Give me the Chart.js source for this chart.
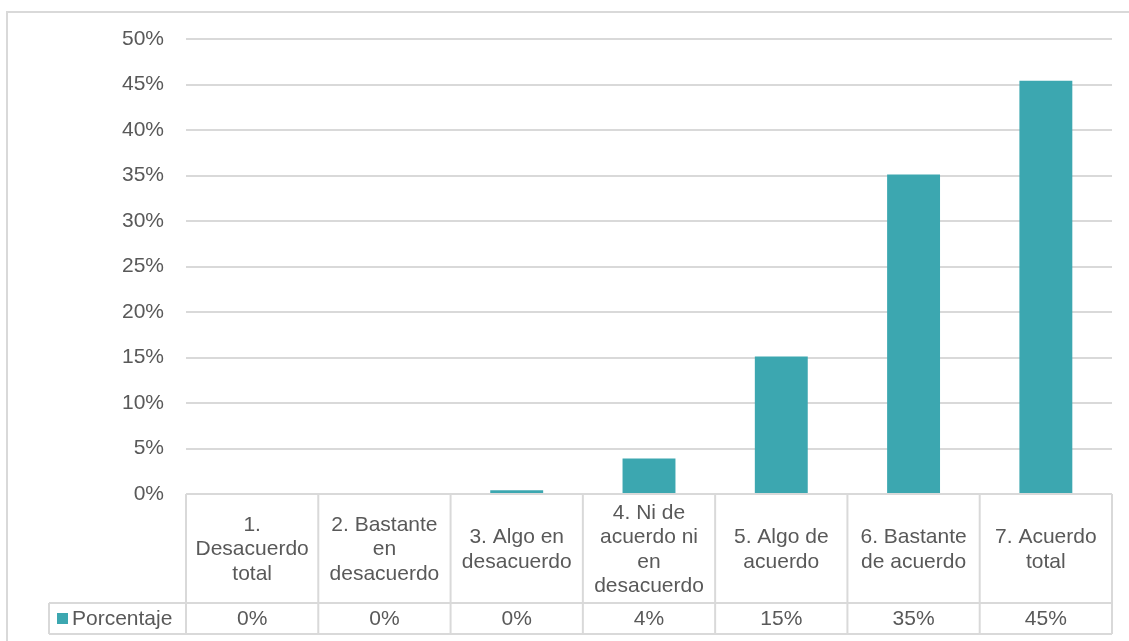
<!DOCTYPE html>
<html lang="es">
<head>
    <meta charset="UTF-8">
    <title>Porcentaje por grado de acuerdo</title>
    <script src="https://cdn.jsdelivr.net/npm/chart.js"></script>
    <style>
        html, body { margin: 0; padding: 0; background: #fff; }
        #wrap { width: 1129px; height: 641px; position: relative; }
    </style>
</head>
<body>
    <div id="wrap">
        <canvas id="acuerdoChart" width="1129" height="641"></canvas>
    </div>

    <script>
        // categories, one entry per column, split into the lines shown in the table
        const categorias = [
            ['1.', 'Desacuerdo', 'total'],
            ['2. Bastante', 'en', 'desacuerdo'],
            ['3. Algo en', 'desacuerdo'],
            ['4. Ni de', 'acuerdo ni', 'en', 'desacuerdo'],
            ['5. Algo de', 'acuerdo'],
            ['6. Bastante', 'de acuerdo'],
            ['7. Acuerdo', 'total']
        ];
        const porcentaje = [0, 0, 0.4, 3.9, 15.1, 35.1, 45.4];
        const serieNombre = 'Porcentaje';
        const yTicks = [0, 5, 10, 15, 20, 25, 30, 35, 40, 45, 50];

        const COLOR_BAR = '#3ca7b0';
        const COLOR_GRID = '#d9d9d9';
        const COLOR_TEXT = '#595959';
        const FONT = '"Liberation Sans", Arial, Helvetica, sans-serif';

        // data table under the plot, laid out on the x scale's category slots
        const dataTable = {
            id: 'dataTable',
            afterDraw(chart) {
                const ctx = chart.ctx;
                const area = chart.chartArea;
                const x = chart.scales.x;
                const n = categorias.length;
                const slot = (area.right - area.left) / n;
                const top = area.bottom;
                const rowY = 603;
                const bottom = 634;
                const legendLeft = 49;

                ctx.save();
                ctx.strokeStyle = COLOR_GRID;
                ctx.lineWidth = 2;

                ctx.beginPath();
                ctx.moveTo(legendLeft, rowY); ctx.lineTo(area.right, rowY);
                ctx.moveTo(legendLeft, bottom); ctx.lineTo(area.right, bottom);
                ctx.moveTo(legendLeft, rowY); ctx.lineTo(legendLeft, bottom);
                for (let i = 0; i <= n; i++) {
                    const bx = x.getPixelForValue(i) - slot / 2;
                    ctx.moveTo(bx, top); ctx.lineTo(bx, bottom);
                }
                ctx.stroke();

                ctx.fillStyle = COLOR_TEXT;
                ctx.font = '21px ' + FONT;
                ctx.textAlign = 'center';
                ctx.textBaseline = 'middle';
                const lineH = 24.5;
                const headMid = (top + rowY) / 2 + 1;
                categorias.forEach((lines, i) => {
                    const cx = x.getPixelForValue(i);
                    lines.forEach((t, j) => {
                        ctx.fillText(t, cx, headMid + (j - (lines.length - 1) / 2) * lineH);
                    });
                    ctx.fillText(Math.round(porcentaje[i]) + '%', cx, (rowY + bottom) / 2 + 1);
                });

                // legend key for the series row
                ctx.fillStyle = COLOR_BAR;
                ctx.fillRect(57, 613, 11, 11);
                ctx.fillStyle = COLOR_TEXT;
                ctx.textAlign = 'left';
                ctx.fillText(serieNombre, 72, (rowY + bottom) / 2 + 1);
                ctx.restore();
            }
        };

        // light frame around the whole chart
        const frame = {
            id: 'frame',
            beforeDraw(chart) {
                const ctx = chart.ctx;
                ctx.save();
                ctx.strokeStyle = COLOR_GRID;
                ctx.lineWidth = 2;
                ctx.strokeRect(7, 12, 1400, 900);
                ctx.restore();
            }
        };

        new Chart(document.getElementById('acuerdoChart').getContext('2d'), {
            type: 'bar',
            data: {
                labels: categorias.map(c => c.join(' ')),
                datasets: [{
                    label: serieNombre,
                    data: porcentaje,
                    backgroundColor: COLOR_BAR,
                    categoryPercentage: 1,
                    barPercentage: 0.4
                }]
            },
            options: {
                responsive: false,
                animation: false,
                layout: { padding: { left: 0, right: 17, top: 39, bottom: 147 } },
                plugins: {
                    legend: { display: false },
                    tooltip: { enabled: false }
                },
                scales: {
                    x: { display: false },
                    y: {
                        min: 0,
                        max: 50,
                        afterFit(scale) { scale.width = 186; },
                        afterBuildTicks(scale) { scale.ticks = yTicks.map(v => ({ value: v })); },
                        border: { display: false },
                        grid: { color: COLOR_GRID, lineWidth: 2, drawTicks: false },
                        ticks: {
                            padding: 22,
                            color: COLOR_TEXT,
                            font: { size: 21, family: FONT },
                            callback: v => v + '%'
                        }
                    }
                }
            },
            plugins: [frame, dataTable]
        });
    </script>
</body>
</html>
